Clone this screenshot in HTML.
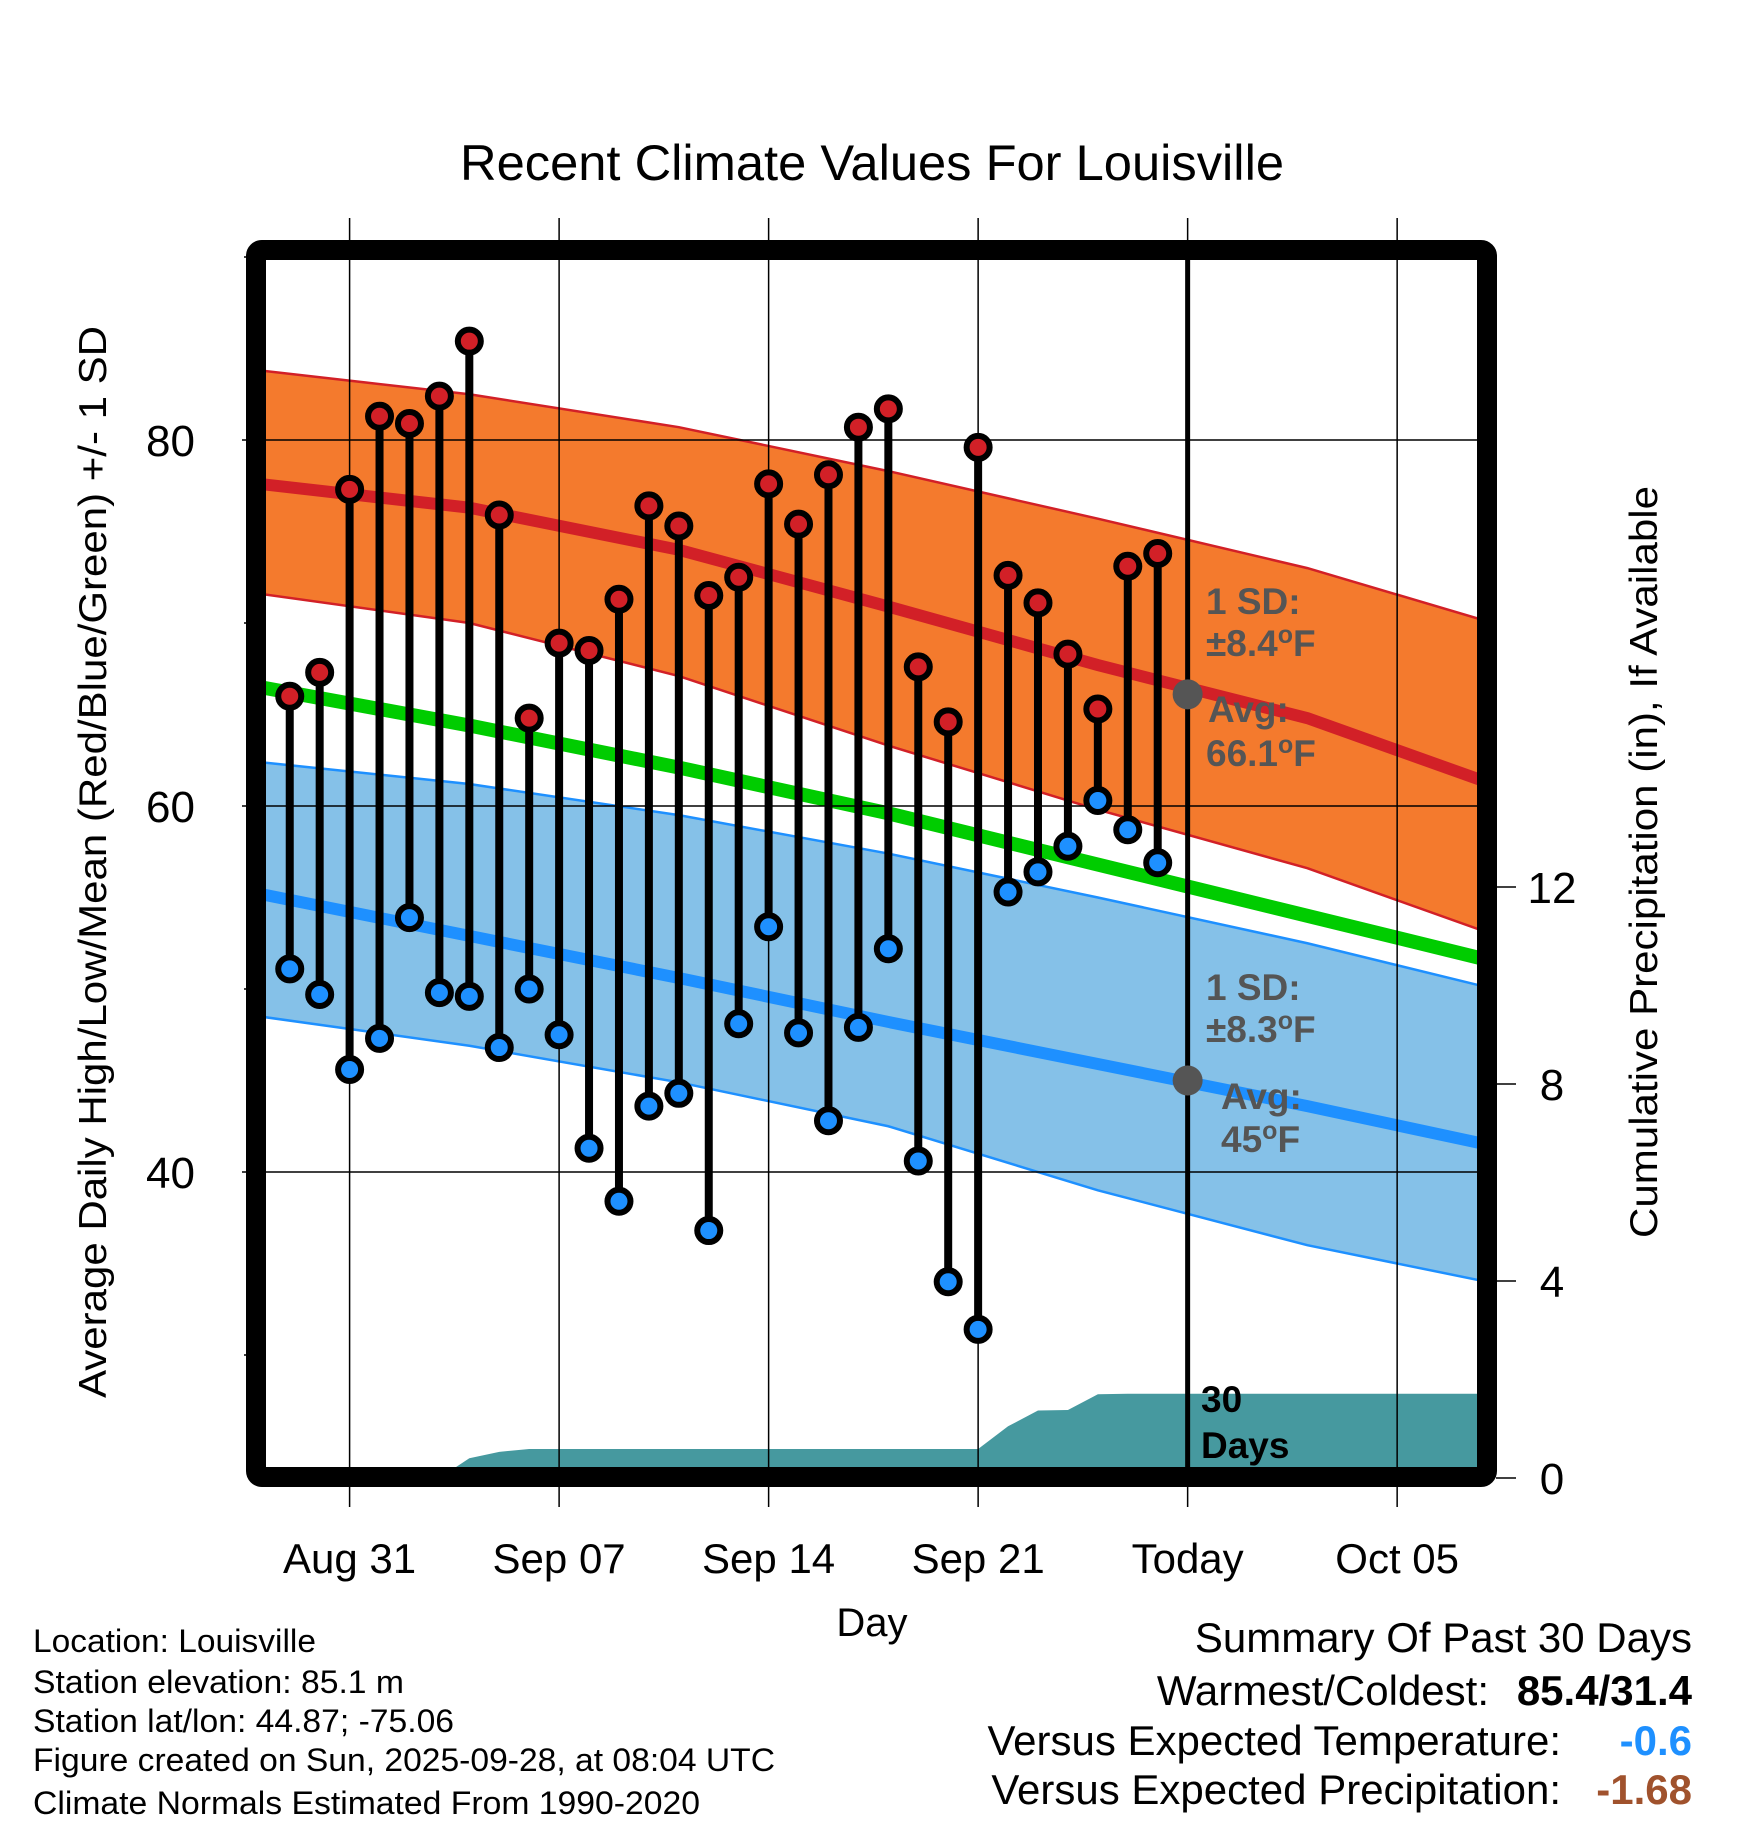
<!DOCTYPE html>
<html><head><meta charset="utf-8"><title>Recent Climate Values For Louisville</title>
<style>
html,body{margin:0;padding:0;background:#fff;}
svg{display:block;font-family:"Liberation Sans",Arial,sans-serif;}
</style></head>
<body>
<svg id="chart" xmlns="http://www.w3.org/2000/svg" width="1748" height="1828" viewBox="0 0 1748 1828">
<defs><clipPath id="plotclip"><rect x="266" y="260" width="1212" height="1208"/></clipPath></defs>
<rect x="0" y="0" width="1748" height="1828" fill="#fff"/>
<text x="872" y="180" font-size="50" text-anchor="middle" textLength="824" lengthAdjust="spacingAndGlyphs">Recent Climate Values For Louisville</text>
<g id="plot" clip-path="url(#plotclip)"></g>
<g id="grid"></g>
<g id="marks" clip-path="url(#plotclip)"></g>
<rect x="256" y="250" width="1231" height="1227" fill="none" stroke="#000" stroke-width="20" rx="6"/>
<g id="axes"></g>
<text transform="translate(106,862) rotate(-90)" font-size="39" text-anchor="middle" textLength="1072" lengthAdjust="spacingAndGlyphs">Average Daily High/Low/Mean (Red/Blue/Green) +/- 1 SD</text>
<text transform="translate(1657,862) rotate(-90)" font-size="39" text-anchor="middle" textLength="752" lengthAdjust="spacingAndGlyphs">Cumulative Precipitation (in), If Available</text>
<text x="872" y="1636" font-size="40" text-anchor="middle">Day</text>
<g font-size="32">
<text x="33" y="1652" textLength="283" lengthAdjust="spacingAndGlyphs">Location: Louisville</text>
<text x="33" y="1693" textLength="371" lengthAdjust="spacingAndGlyphs">Station elevation: 85.1 m</text>
<text x="33" y="1732" textLength="421" lengthAdjust="spacingAndGlyphs">Station lat/lon: 44.87; -75.06</text>
<text x="33" y="1771" textLength="742" lengthAdjust="spacingAndGlyphs">Figure created on Sun, 2025-09-28, at 08:04 UTC</text>
<text x="33" y="1814" textLength="667" lengthAdjust="spacingAndGlyphs">Climate Normals Estimated From 1990-2020</text>
</g>
<g font-size="42" text-anchor="end">
<text x="1692" y="1652">Summary Of Past 30 Days</text>
<text x="1489" y="1705">Warmest/Coldest:</text>
<text x="1692" y="1705" font-weight="bold">85.4/31.4</text>
<text x="1561" y="1755">Versus Expected Temperature:</text>
<text x="1692" y="1755" font-weight="bold" fill="#1e90ff">-0.6</text>
<text x="1561" y="1804">Versus Expected Precipitation:</text>
<text x="1692" y="1804" font-weight="bold" fill="#a0522d">-1.68</text>
</g>
<g id="labels" font-weight="bold" font-size="37"></g>
</svg>
<script>
// ---- data ----
const dayOffsets = [-2,-1,0,1,2,3,4,5,6,7,8,9,10,11,12,13,14,15,16,17,18,19,20,21,22,23,24,25,26,27]; // days from Aug 31
const highs = [66.0,67.3,77.3,81.3,80.9,82.4,85.4,75.9,64.8,68.9,68.5,71.3,76.4,75.3,71.5,72.5,77.6,75.4,78.1,80.7,81.7,67.6,64.6,79.6,72.6,71.1,68.3,65.3,73.1,73.8];
const lows = [51.1,49.7,45.6,47.3,53.9,49.8,49.6,46.8,50.0,47.5,41.3,38.4,43.6,44.3,36.8,48.1,53.4,47.6,42.8,47.9,52.2,40.6,34.0,31.4,55.3,56.4,57.8,60.3,58.7,56.9];
const normalDays = [-3,4,11,18,25,32,38];
const highMean = [77.6,76.3,74.0,70.9,67.7,64.8,61.3];
const highUpper = [83.8,82.5,80.7,78.3,75.7,73.0,70.1];
const highLower = [71.6,70.0,67.1,63.3,59.8,56.6,53.1];
const meanNormal = [66.5,64.4,62.1,59.6,56.8,54.0,51.6];
const lowMean = [55.2,52.9,50.6,48.2,45.9,43.6,41.5];
const lowUpper = [62.4,61.2,59.5,57.4,55.0,52.5,50.1];
const lowLower = [48.5,46.9,44.9,42.5,39.0,36.0,34.0];
const precipDays = [-3,3,4,5,6,21,22,23,24,25,26,27,38];
const precipCum = [0,0,0.40,0.53,0.59,0.59,1.05,1.37,1.38,1.70,1.71,1.71,1.71];
const xTickDays = [0,7,14,21,28,35];
const xTickLabels = ["Aug 31","Sep 07","Sep 14","Sep 21","Today","Oct 05"];
const yTicks = [40,60,80];
const yMinorTicks = [30,50,70,90];
const y2Ticks = [0,4,8,12];
const todayDay = 28, todayHighAvg = 66.1, todayLowAvg = 45.0;

// ---- axis functions ----
const X = d => 349.6 + 29.93*d;
const Y = v => 440 + (80 - v)*18.3;
const PY = p => 1478 - p*49.25;
const NS = "http://www.w3.org/2000/svg";
function mk(parent, tag, attrs){ const e=document.createElementNS(NS,tag); for(const k in attrs) e.setAttribute(k,attrs[k]); parent.appendChild(e); return e; }
const plot=document.getElementById('plot'), grid=document.getElementById('grid'), marks=document.getElementById('marks'), axes=document.getElementById('axes'), labels=document.getElementById('labels');
const pts = (arr)=>normalDays.map((d,i)=>X(d)+','+Y(arr[i]));

let el;
el = mk(plot,'polygon',{points: pts(highUpper).concat(pts(highLower).reverse()).join(' '), fill:'#f47a2d'});
 
el = mk(plot,'polygon',{points: pts(lowUpper).concat(pts(lowLower).reverse()).join(' '), fill:'#85c1e8'});
 
[[highUpper,'#d22027',2.5,'high-band-upper'],[highLower,'#d22027',2.5,'high-band-lower'],[lowUpper,'#1e90ff',2.5,'low-band-upper'],[lowLower,'#1e90ff',2.5,'low-band-lower'],[highMean,'#d22027',12,'normal-high-line'],[meanNormal,'#00cc00',14,'normal-mean-line'],[lowMean,'#1e90ff',12,'normal-low-line']].forEach(s=>{
  el = mk(plot,'polyline',{points: pts(s[0]).join(' '), fill:'none', stroke:s[1], 'stroke-width':s[2]});
  
  
});
// precip area
let pp = precipDays.map((d,i)=>X(d)+','+PY(precipCum[i]));
pp.push(X(38)+','+PY(0)); pp.push(X(-3)+','+PY(0));
el = mk(plot,'polygon',{points: pp.join(' '), fill:'#46999f'});
 

// grid
xTickDays.forEach((d,i)=>{
  el = mk(grid,'line',{x1:X(d),x2:X(d),y1:218,y2:1507,stroke:'#000','stroke-width':1.5});
  
  
  if(d===todayDay){
    el = mk(grid,'line',{x1:X(d),x2:X(d),y1:255,y2:1475,stroke:'#000','stroke-width':5});
    
    
  }
  el = mk(axes,'text',{x:X(d),y:1573,'font-size':42,'text-anchor':'middle'});
  el.textContent = xTickLabels[i];
  
  
});
yTicks.forEach(v=>{
  el = mk(grid,'line',{x1:242,x2:1478,y1:Y(v),y2:Y(v),stroke:'#000','stroke-width':1.5});
   
  el = mk(axes,'text',{x:195,y:Y(v)+16,'font-size':44,'text-anchor':'end'});
  el.textContent = v;
   
});
yMinorTicks.forEach(v=>{
  el = mk(axes,'line',{x1:244,x2:258,y1:Y(v),y2:Y(v),stroke:'#000','stroke-width':1.5});
   
});
y2Ticks.forEach(p=>{
  el = mk(axes,'line',{x1:1496,x2:1516,y1:PY(p),y2:PY(p),stroke:'#000','stroke-width':1.5});
   
  el = mk(axes,'text',{x:1552,y:PY(p)+16,'font-size':44,'text-anchor':'middle'});
  el.textContent = p;
   
});

// stems & markers
dayOffsets.forEach((d,i)=>{
  el = mk(marks,'line',{x1:X(d),x2:X(d),y1:Y(highs[i]),y2:Y(lows[i]),stroke:'#000','stroke-width':8});
   
});
dayOffsets.forEach((d,i)=>{
  el = mk(marks,'circle',{cx:X(d),cy:Y(highs[i]),r:11.5,fill:'#d22027',stroke:'#000','stroke-width':6});
   
  el = mk(marks,'circle',{cx:X(d),cy:Y(lows[i]),r:11.5,fill:'#1e90ff',stroke:'#000','stroke-width':6});
   
});
el = mk(marks,'circle',{cx:X(todayDay),cy:Y(todayHighAvg),r:15,fill:'#555'});
 
el = mk(marks,'circle',{cx:X(todayDay),cy:Y(todayLowAvg),r:15,fill:'#555'});
 

// annotation labels
function lab(x,y,html,name,fill){
  const t = mk(labels,'text',{x:x,y:y,fill:fill||'#555'});
  t.innerHTML = html;
  
  
}
const deg = '<tspan dy="-13" font-size="25">o</tspan><tspan dy="13">F</tspan>';
lab(1206,614,'1 SD:','high-sd-label');
lab(1206,656,'±8.4'+deg,'high-sd-value');
lab(1208,722,'Avg:','high-avg-label');
lab(1206,766,'66.1'+deg,'high-avg-value');
lab(1206,1000,'1 SD:','low-sd-label');
lab(1206,1042,'±8.3'+deg,'low-sd-value');
lab(1221,1109,'Avg:','low-avg-label');
lab(1221,1152,'45'+deg,'low-avg-value');
lab(1201,1412,'30','days-count-label','#000');
lab(1201,1458,'Days','days-unit-label','#000');
</script>
</body></html>
